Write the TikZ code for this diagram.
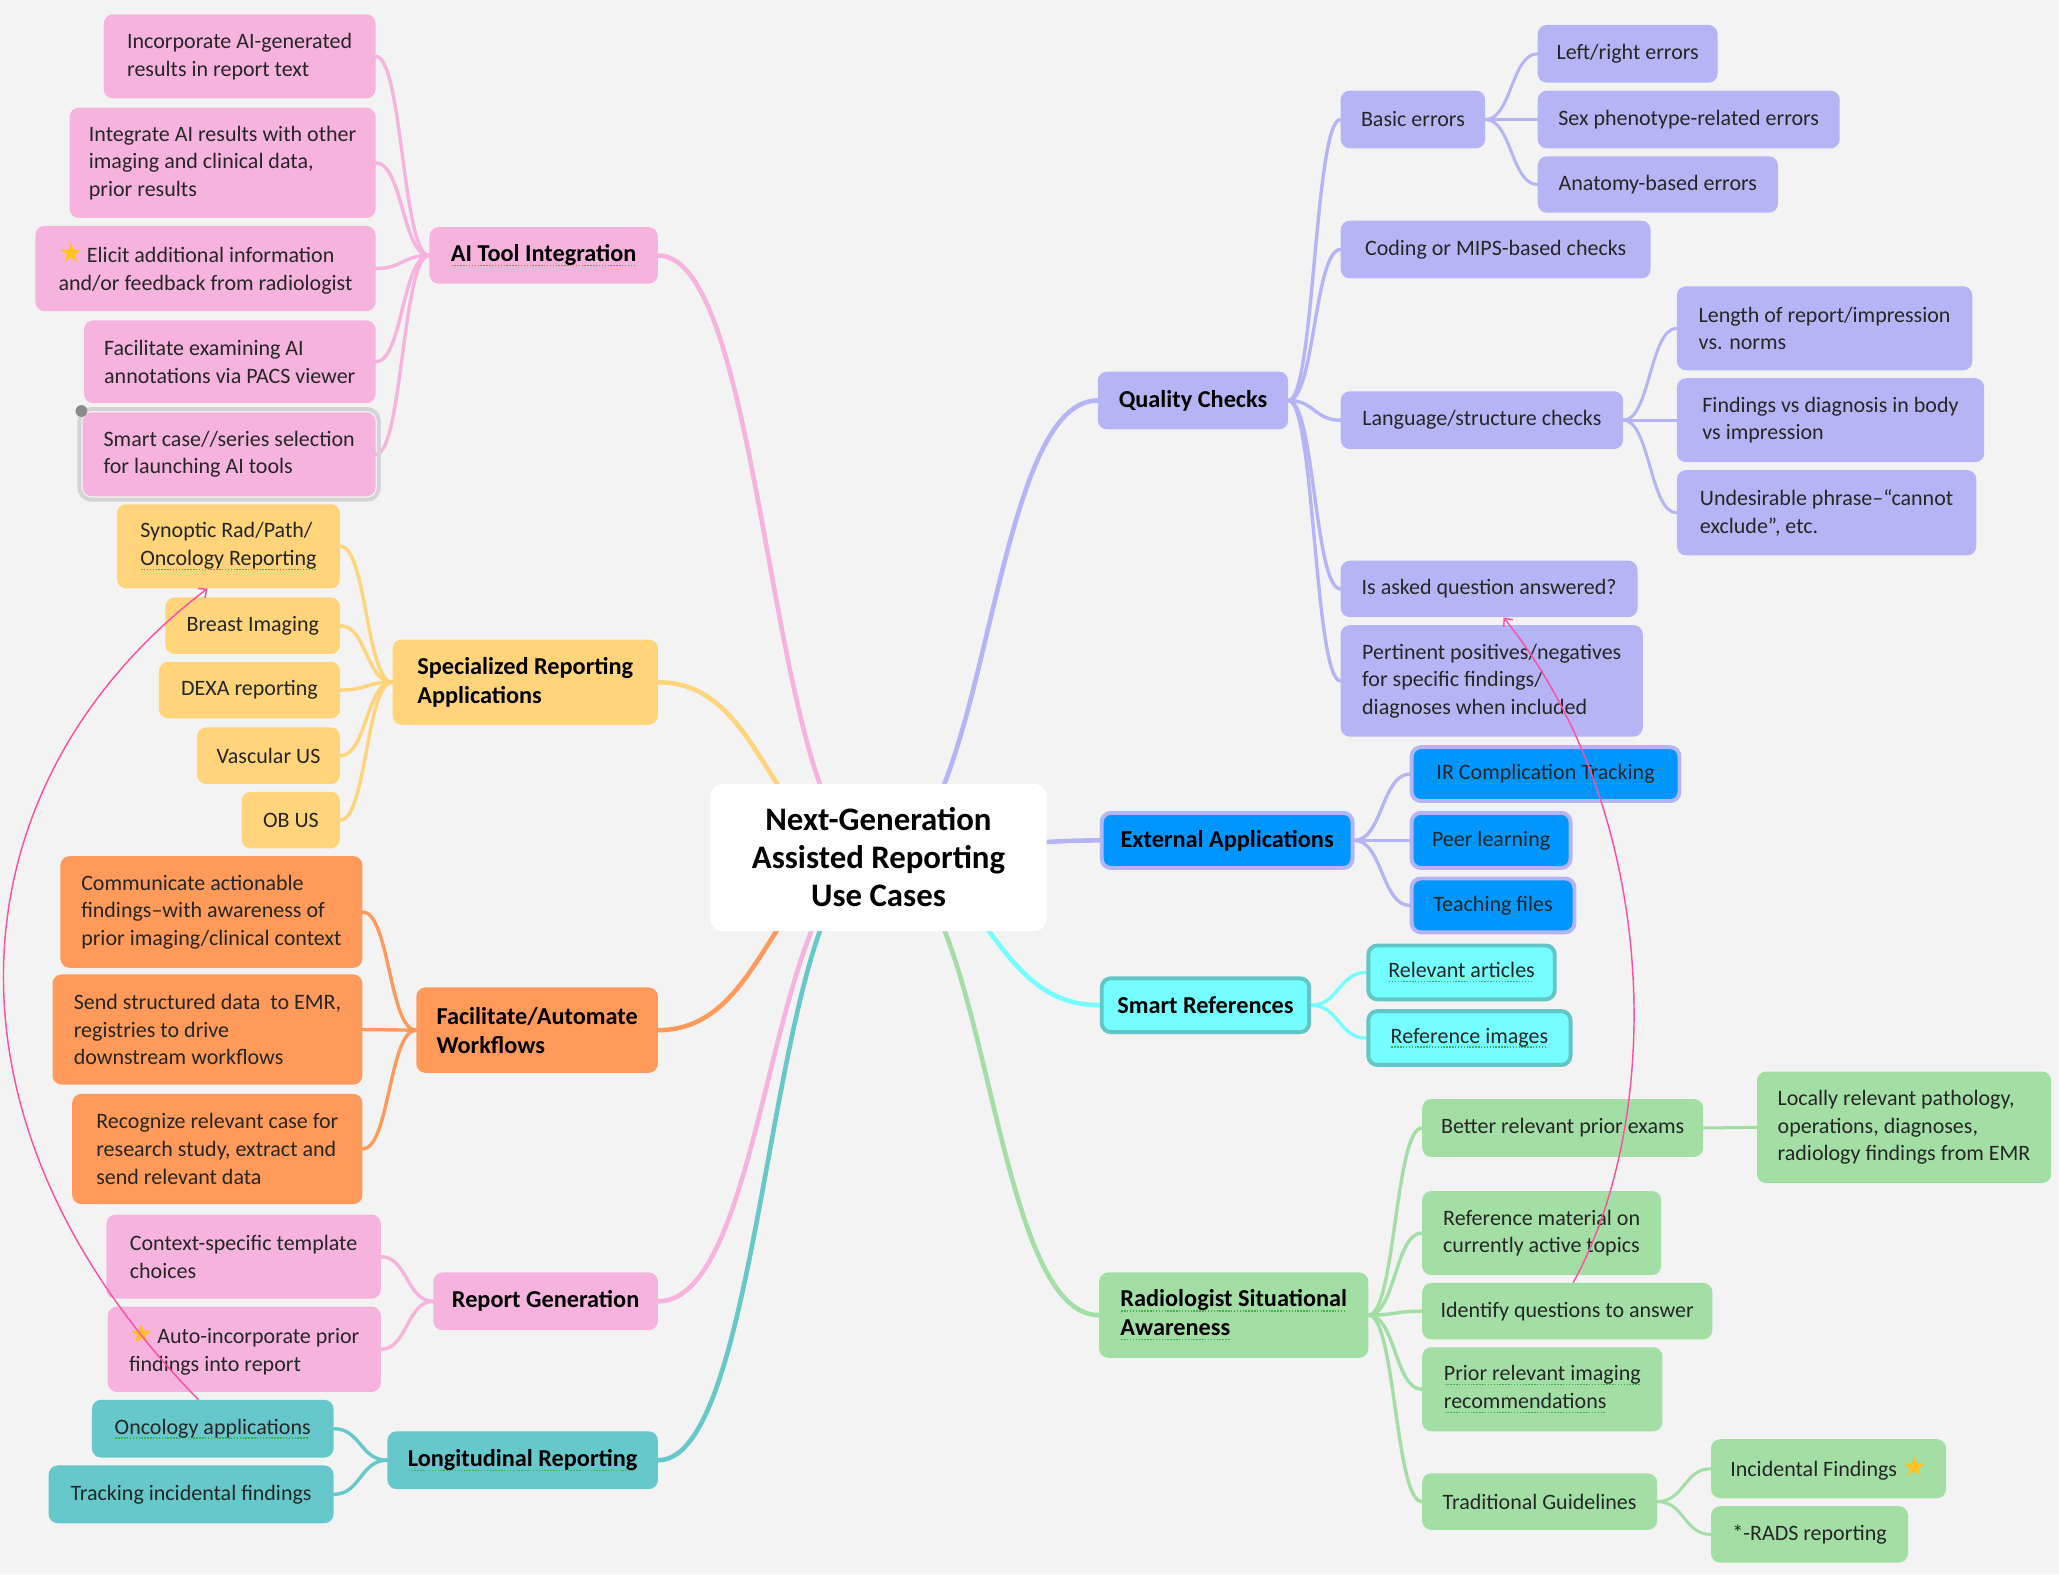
\documentclass[tikz,border=0pt]{standalone}
\usepackage{fontspec}
\setmainfont{Carlito}
\newfontfamily\symfont{DejaVu Sans}
\usetikzlibrary{calc,arrows.meta}
\definecolor{bgc}{HTML}{F3F3F3}
\definecolor{pinkc}{HTML}{F5B3DE}
\definecolor{yelc}{HTML}{FFD47A}
\definecolor{orac}{HTML}{FF9A5A}
\definecolor{tealc}{HTML}{66C8CB}
\definecolor{purc}{HTML}{B5B5F5}
\definecolor{bluec}{HTML}{0096FF}
\definecolor{cyanc}{HTML}{75FEFF}
\definecolor{cyanb}{HTML}{62C5C6}
\definecolor{grnc}{HTML}{A3DFA5}
\definecolor{arrc}{HTML}{FF4FA3}
\definecolor{sqc}{HTML}{3DB34A}
\definecolor{starc}{HTML}{FFC21F}
\definecolor{txt}{HTML}{262626}
\definecolor{selc}{HTML}{D4D4D4}
\definecolor{dotc}{HTML}{8A8A8A}
\newsavebox\squlbox
\newcommand\squl[1]{\sbox\squlbox{#1}\makebox[0pt][l]{\raisebox{-3.5pt}{\textcolor{sqc}{\leaders\hbox to 2.2pt{\hss\rule{1.1pt}{1.1pt}\hss}\hskip\wd\squlbox}}}\usebox\squlbox}
\newcommand\ystar{{\symfont\fontsize{21pt}{21pt}\selectfont\textcolor{starc}{★}}}
\newcommand\fnt{\fontsize{16.75pt}{21pt}\selectfont}
\newcommand\fnb{\fontsize{18.5pt}{22pt}\selectfont\bfseries}
\newcommand\fnc{\fontsize{25pt}{29pt}\selectfont\bfseries}
\newcommand\bx[7]{\node[#6,minimum width={(#4-#2)*1pt},minimum height={(#5-#3)*1pt}] (#1) at ({(#2+#4)/2},{(#3+#5)/2}) {#7};}
\newcommand\lk[4]{\draw[line width=#2,draw=#1,line cap=round] let \p1=#3, \p2=#4 in (\p1) .. controls ({(\x1+\x2)/2},\y1) and ({(\x1+\x2)/2},\y2) .. (\p2);}
\pgfdeclarelayer{back}
\pgfdeclarelayer{bg}
\pgfsetlayers{back,bg,main}
\tikzset{
  box/.style={rounded corners=7pt, inner sep=0pt, align=left, text=txt, font=\fnt},
  mainf/.style={font=\fnb, text=black},
  pk/.style={box, fill=pinkc},
  yl/.style={box, fill=yelc},
  orb/.style={box, fill=orac},
  tl/.style={box, fill=tealc},
  pu/.style={box, fill=purc},
  bl/.style={box, fill=bluec, draw=purc, line width=3pt},
  cy/.style={box, fill=cyanc, draw=cyanb, line width=3pt},
  gr/.style={box, fill=grnc},
  ctrs/.style={box, fill=white, align=center, font=\fnc, text=black, rounded corners=9pt},
  xarr/.style={draw=arrc, line width=1.1pt, -{Straight Barb[length=5pt,width=9pt]}}
}
\begin{document}
\begin{tikzpicture}[x=1pt,y=-1pt]
\useasboundingbox (0,0) rectangle (1568,1199);
\begin{pgfonlayer}{back}
\fill[bgc] (0,0) rectangle (1568,1199);
\end{pgfonlayer}
% centre
\bx{ctr}{541}{597}{797}{709}{ctrs}{Next-Generation\\Assisted Reporting\\Use Cases}
% AI Tool Integration
\bx{ai}{327}{173}{501}{216}{pk,mainf}{\squl{AI Tool Integration}}
\bx{ai1}{79}{11}{286}{75}{pk}{Incorporate AI-generated\\results in report text}
\bx{ai2}{53}{82}{286}{166}{pk}{Integrate AI results with other\\imaging and clinical data,\\prior results}
\bx{ai3}{27}{172}{286}{237}{pk}{\ystar\,Elicit additional information\\and/or feedback from radiologist}
\bx{ai4}{64}{244}{286}{307}{pk}{Facilitate examining AI\\annotations via PACS viewer}
\draw[selc, line width=3pt, rounded corners=9pt] (60.5,311.5) rectangle (288.5,380.5);
\bx{ai5}{63}{314}{286}{378}{pk}{Smart case//series selection\\for launching AI tools}
\fill[dotc] (62,313) circle (4.5);
% Specialized
\bx{sp}{299}{487}{501}{552}{yl,mainf}{Specialized Reporting\\Applications}
\bx{sp1}{89}{384}{259}{448}{yl}{Synoptic Rad/Path/\\\squl{Oncology Reporting}}
\bx{sp2}{126}{455}{259}{498}{yl}{Breast Imaging}
\bx{sp3}{121}{504}{259}{547}{yl}{DEXA reporting}
\bx{sp4}{150}{554}{259}{597}{yl}{Vascular US}
\bx{sp5}{184}{603}{259}{646}{yl}{OB US}
% Facilitate
\bx{fa}{317}{752}{501}{817}{orb,mainf}{Facilitate/Automate\\Workflows}
\bx{fa1}{46}{652}{276}{737}{orb}{Communicate actionable\\findings–with awareness of\\prior imaging/clinical context}
\bx{fa2}{40}{742}{276}{826}{orb}{Send structured data\ \ to EMR,\\registries to drive\\downstream workflows}
\bx{fa3}{55}{833}{276}{917}{orb}{Recognize relevant case for\\research study, extract and\\send relevant data}
% Report generation
\bx{rg}{330}{969}{501}{1013}{pk,mainf}{Report Generation}
\bx{rg1}{81}{925}{290}{989}{pk}{Context-specific template\\choices}
\bx{rg2}{82}{995}{290}{1060}{pk}{\ystar\,Auto-incorporate prior\\findings into report}
% Longitudinal
\bx{lr}{295}{1090}{501}{1134}{tl,mainf}{\squl{Longitudinal Reporting}}
\bx{lr1}{70}{1066}{254}{1110}{tl}{\squl{Oncology applications}}
\bx{lr2}{37}{1116}{254}{1160}{tl}{Tracking incidental findings}
% Quality checks
\bx{qc}{836}{283}{981}{327}{pu,mainf}{Quality Checks}
\bx{qc1}{1021}{69}{1131}{113}{pu}{Basic errors}
\bx{qc2}{1021}{168}{1257}{212}{pu}{Coding or MIPS-based checks}
\bx{qc3}{1021}{298}{1236}{342}{pu}{Language/structure checks}
\bx{qc4}{1021}{427}{1247}{470}{pu}{Is asked question answered?}
\bx{qc5}{1021}{476}{1251}{561}{pu}{Pertinent positives/negatives\\for specific findings/\\diagnoses when included}
\bx{be1}{1171}{19}{1308}{63}{pu}{Left/right errors}
\bx{be2}{1171}{69}{1401}{113}{pu}{Sex phenotype-related errors}
\bx{be3}{1171}{119}{1354}{162}{pu}{Anatomy-based errors}
\bx{ls1}{1277}{218}{1502}{282}{pu}{Length of report/impression\\vs. norms}
\bx{ls2}{1277}{288}{1511}{352}{pu}{Findings vs diagnosis in body\\vs impression}
\bx{ls3}{1277}{358}{1505}{423}{pu}{Undesirable phrase–“cannot\\exclude”, etc.}
% External applications
\bx{ea}{839}{619}{1030}{661}{bl,mainf}{External Applications}
\bx{ea1}{1075}{569}{1279}{610}{bl}{\squl{IR Complication Tracking}}
\bx{ea2}{1075}{619}{1196}{661}{bl}{Peer learning}
\bx{ea3}{1075}{669}{1199}{710}{bl}{Teaching files}
% Smart references
\bx{sr}{839}{745}{997}{786}{cy,mainf}{Smart References}
\bx{sr1}{1042}{720}{1184}{761}{cy}{\squl{Relevant articles}}
\bx{sr2}{1042}{770}{1196}{811}{cy}{\squl{Reference images}}
% Radiologist situational awareness
\bx{ra}{837}{969}{1042}{1034}{gr,mainf}{\squl{Radiologist Situational}\\\squl{Awareness}}
\bx{ra1}{1083}{837}{1297}{881}{gr}{Better relevant prior exams}
\bx{ra2}{1083}{907}{1265}{971}{gr}{Reference material on\\currently active topics}
\bx{ra3}{1083}{977}{1304}{1020}{gr}{Identify questions to answer}
\bx{ra4}{1083}{1026}{1266}{1090}{gr}{\squl{Prior relevant imaging}\\\squl{recommendations}}
\bx{ra5}{1083}{1122}{1262}{1165}{gr}{Traditional Guidelines}
\bx{rb1}{1338}{816}{1562}{901}{gr}{Locally relevant pathology,\\operations, diagnoses,\\radiology findings from EMR}
\bx{rt1}{1303}{1096}{1482}{1141}{gr}{Incidental Findings \ystar}
\bx{rt2}{1303}{1147}{1453}{1190}{gr}{*-RADS reporting}
% connectors
\begin{pgfonlayer}{bg}
\lk{pinkc}{3.5pt}{(ai.east)}{(ctr.center)}
\lk{yelc}{3.5pt}{(sp.east)}{(ctr.center)}
\lk{orac}{3.5pt}{(fa.east)}{(ctr.center)}
\lk{pinkc}{3.5pt}{(rg.east)}{(ctr.center)}
\lk{tealc}{3.5pt}{(lr.east)}{(ctr.center)}
\lk{purc}{3.5pt}{(ctr.center)}{(qc.west)}
\lk{purc}{3.5pt}{(ctr.center)}{(ea.west)}
\lk{cyanc}{3.5pt}{(ctr.center)}{(sr.west)}
\lk{grnc}{3.5pt}{(ctr.center)}{(ra.west)}
\foreach \c in {ai1,ai2,ai3,ai4,ai5}{\lk{pinkc}{2.6pt}{(\c.east)}{(ai.west)}}
\foreach \c in {sp1,sp2,sp3,sp4,sp5}{\lk{yelc}{2.6pt}{(\c.east)}{(sp.west)}}
\foreach \c in {fa1,fa2,fa3}{\lk{orac}{2.6pt}{(\c.east)}{(fa.west)}}
\foreach \c in {rg1,rg2}{\lk{pinkc}{2.6pt}{(\c.east)}{(rg.west)}}
\foreach \c in {lr1,lr2}{\lk{tealc}{2.6pt}{(\c.east)}{(lr.west)}}
\foreach \c in {qc1,qc2,qc3,qc4,qc5}{\lk{purc}{2.6pt}{(qc.east)}{(\c.west)}}
\foreach \c in {be1,be2,be3}{\lk{purc}{2.3pt}{(qc1.east)}{(\c.west)}}
\foreach \c in {ls1,ls2,ls3}{\lk{purc}{2.3pt}{(qc3.east)}{(\c.west)}}
\foreach \c in {ea1,ea2,ea3}{\lk{purc}{2.6pt}{(ea.east)}{(\c.west)}}
\foreach \c in {sr1,sr2}{\lk{cyanc}{2.6pt}{(sr.east)}{(\c.west)}}
\foreach \c in {ra1,ra2,ra3,ra4,ra5}{\lk{grnc}{2.6pt}{(ra.east)}{(\c.west)}}
\lk{grnc}{2.3pt}{(ra1.east)}{(rb1.west)}
\foreach \c in {rt1,rt2}{\lk{grnc}{2.3pt}{(ra5.east)}{(\c.west)}}
\end{pgfonlayer}
% cross links
\draw[xarr] ([xshift=-11pt]lr1.north) .. controls (-60,850) and (-35,595) .. ([xshift=-16pt]sp1.south);
\draw[xarr] ([xshift=4.5pt]ra3.north) .. controls (1268,850) and (1265,620) .. ([xshift=11pt]qc4.south);
\end{tikzpicture}
\end{document}
